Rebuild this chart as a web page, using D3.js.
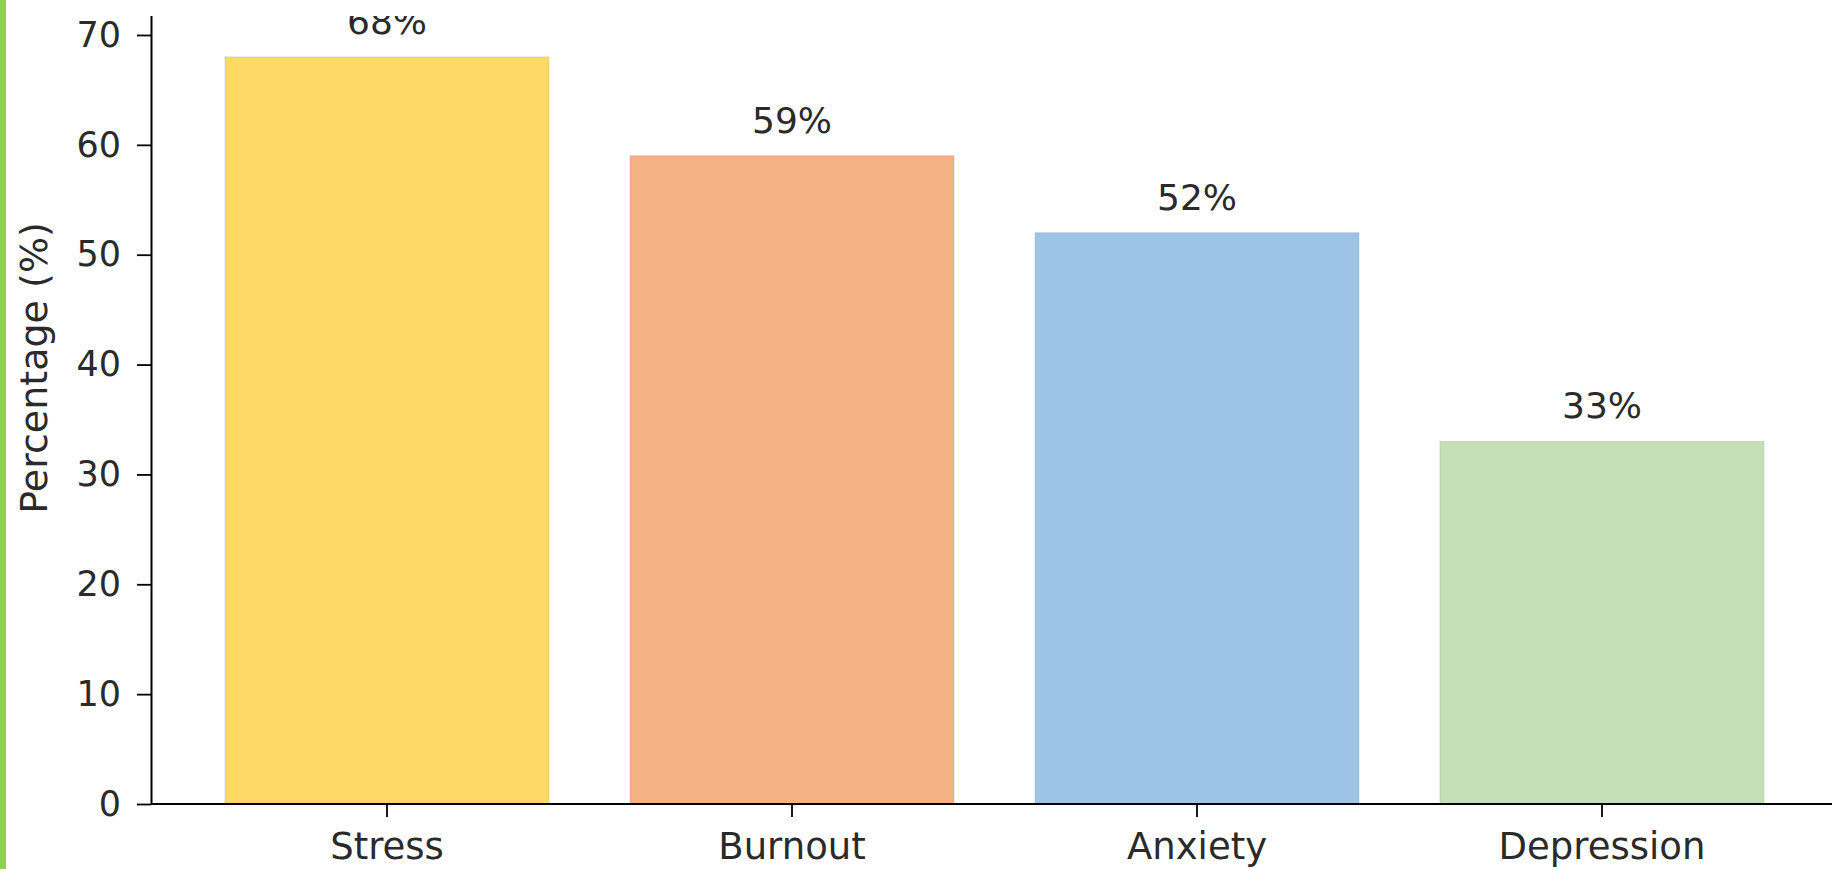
<!DOCTYPE html>
<html>
<head>
<meta charset="utf-8">
<script src="https://cdn.jsdelivr.net/npm/d3@7"></script>
<style>
  html, body { margin: 0; padding: 0; background: #fff; }
  svg { display: block; }
  text { font-family: "DejaVu Sans", sans-serif; }
</style>
</head>
<body>
<svg id="chart" width="1832" height="869"></svg>
<script>
// Mental health issues — percentage bar chart

const categories = ["Stress", "Burnout", "Anxiety", "Depression"];
const values     = [68, 59, 52, 33];
const barColors  = ["#ffd966", "#f4b183", "#9dc3e6", "#c5e0b4"];
const yTicks     = [0, 10, 20, 30, 40, 50, 60, 70];
const yLabel     = "Percentage (%)";

const W = 1832, H = 869;
const spineX = 151, baseY = 804;
const FONT = 35;
const INK = "#2a2a2a";

const svg = d3.select("#chart");

// scales
const y = d3.scaleLinear().domain([0, 72]).range([baseY, baseY - 72 * 10.986]);
const x = d3.scaleBand()
    .domain(categories)
    .range([184.5, 1804.5])
    .paddingInner(0.2)
    .paddingOuter(0.1);

// Bars
svg.append("g")
    .selectAll("rect")
    .data(categories)
    .join("rect")
    .attr("x", d => x(d))
    .attr("y", (d, i) => y(values[i]))
    .attr("width", x.bandwidth())
    .attr("height", (d, i) => y(0) - y(values[i]))
    .attr("fill", (d, i) => barColors[i])
    .attr("stroke", "#9a9a9a")
    .attr("stroke-width", 0.6)
    .attr("stroke-opacity", 0.5);

// Value labels
svg.append("g")
    .selectAll("text")
    .data(categories)
    .join("text")
    .attr("x", d => x(d) + x.bandwidth() / 2)
    .attr("y", (d, i) => y(values[i]) - 23)
    .attr("text-anchor", "middle")
    .attr("font-size", (FONT + 1) + "px")
    .attr("fill", INK)
    .text((d, i) => `${values[i]}%`);

// Y axis
const yAxis = svg.append("g")
    .attr("transform", `translate(${spineX},0)`)
    .call(d3.axisLeft(y).tickValues(yTicks).tickSize(14).tickSizeOuter(0).tickPadding(16));

// X axis
const xAxis = svg.append("g")
    .attr("transform", `translate(0,${baseY})`)
    .call(d3.axisBottom(x).tickSize(13).tickSizeOuter(0).tickPadding(16));
xAxis.select(".domain").attr("d", `M${spineX},0H${W}`);

[yAxis, xAxis].forEach(ax => {
    ax.select(".domain").attr("stroke", "#000").attr("stroke-width", 2);
    ax.selectAll(".tick line").attr("stroke", "#000").attr("stroke-width", 1.8);
    ax.selectAll(".tick text")
        .attr("font-family", "DejaVu Sans, sans-serif")
        .attr("font-size", FONT + "px")
        .attr("fill", INK);
});
xAxis.selectAll(".tick text").attr("font-size", (FONT + 2) + "px");

// Y label
svg.append("text")
    .attr("transform", "translate(47,368) rotate(-90)")
    .attr("text-anchor", "middle")
    .attr("font-size", (FONT + 3) + "px")
    .attr("fill", INK)
    .text(yLabel);

// top of the source image is cropped
svg.append("rect")
    .attr("x", 0).attr("y", 0)
    .attr("width", W).attr("height", 16)
    .attr("fill", "#fff");

// green stripe on the left edge
svg.append("rect")
    .attr("x", 0).attr("y", 0)
    .attr("width", 6).attr("height", H)
    .attr("fill", "#92d050");
</script>
</body>
</html>
